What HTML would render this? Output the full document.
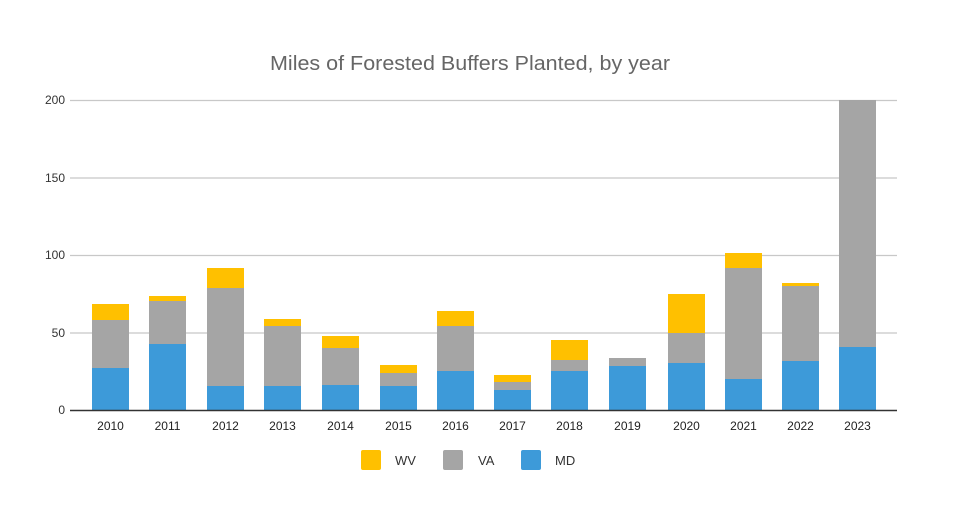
<!DOCTYPE html>
<html><head><meta charset="utf-8"><style>html,body{margin:0;padding:0;background:#fff}</style></head>
<body>
<svg width="960" height="502" viewBox="0 0 960 502" xmlns="http://www.w3.org/2000/svg" font-family="Liberation Sans, sans-serif">
<rect width="960" height="502" fill="#fff"/>
<text x="270" y="70" font-size="20" fill="#666" textLength="400" lengthAdjust="spacingAndGlyphs">Miles of Forested Buffers Planted, by year</text>
<g stroke="#c8c8c8" stroke-width="1.3">
<line x1="70" y1="100.5" x2="897" y2="100.5"/>
<line x1="70" y1="178" x2="897" y2="178"/>
<line x1="70" y1="255.5" x2="897" y2="255.5"/>
<line x1="70" y1="333" x2="897" y2="333"/>
</g>
<g font-size="12" fill="#333" text-anchor="end">
<text x="65" y="104">200</text><text x="65" y="182">150</text><text x="65" y="259">100</text><text x="65" y="337">50</text><text x="65" y="414">0</text>
</g>
<g fill="#3d9ad9">
<rect x="92" y="368" width="37" height="42"/>
<rect x="149" y="344" width="37" height="66"/>
<rect x="207" y="386" width="37" height="24"/>
<rect x="264" y="386" width="37" height="24"/>
<rect x="322" y="385" width="37" height="25"/>
<rect x="380" y="386" width="37" height="24"/>
<rect x="437" y="371" width="37" height="39"/>
<rect x="494" y="390" width="37" height="20"/>
<rect x="551" y="371" width="37" height="39"/>
<rect x="609" y="366" width="37" height="44"/>
<rect x="668" y="363" width="37" height="47"/>
<rect x="725" y="379" width="37" height="31"/>
<rect x="782" y="361" width="37" height="49"/>
<rect x="839" y="347" width="37" height="63"/>
</g>
<g fill="#a5a5a5">
<rect x="92" y="320" width="37" height="48"/>
<rect x="149" y="301" width="37" height="43"/>
<rect x="207" y="288" width="37" height="98"/>
<rect x="264" y="326" width="37" height="60"/>
<rect x="322" y="348" width="37" height="37"/>
<rect x="380" y="373" width="37" height="13"/>
<rect x="437" y="326" width="37" height="45"/>
<rect x="494" y="382" width="37" height="8"/>
<rect x="551" y="360" width="37" height="11"/>
<rect x="609" y="358" width="37" height="8"/>
<rect x="668" y="333" width="37" height="30"/>
<rect x="725" y="268" width="37" height="111"/>
<rect x="782" y="286" width="37" height="75"/>
<rect x="839" y="100" width="37" height="247"/>
</g>
<g fill="#ffc000">
<rect x="92" y="304" width="37" height="16"/>
<rect x="149" y="296" width="37" height="5"/>
<rect x="207" y="268" width="37" height="20"/>
<rect x="264" y="319" width="37" height="7"/>
<rect x="322" y="336" width="37" height="12"/>
<rect x="380" y="365" width="37" height="8"/>
<rect x="437" y="311" width="37" height="15"/>
<rect x="494" y="375" width="37" height="7"/>
<rect x="551" y="340" width="37" height="20"/>
<rect x="668" y="294" width="37" height="39"/>
<rect x="725" y="253" width="37" height="15"/>
<rect x="782" y="283" width="37" height="3"/>
</g>
<g font-size="12" fill="#222" text-anchor="middle">
<text x="110.5" y="430">2010</text>
<text x="167.5" y="430">2011</text>
<text x="225.5" y="430">2012</text>
<text x="282.5" y="430">2013</text>
<text x="340.5" y="430">2014</text>
<text x="398.5" y="430">2015</text>
<text x="455.5" y="430">2016</text>
<text x="512.5" y="430">2017</text>
<text x="569.5" y="430">2018</text>
<text x="627.5" y="430">2019</text>
<text x="686.5" y="430">2020</text>
<text x="743.5" y="430">2021</text>
<text x="800.5" y="430">2022</text>
<text x="857.5" y="430">2023</text>
</g>
<line x1="70" y1="410.5" x2="897" y2="410.5" stroke="#333" stroke-width="1.5"/>
<rect x="361" y="450" width="20" height="20" rx="2" fill="#ffc000"/>
<text x="395" y="465" font-size="13" fill="#333">WV</text>
<rect x="443" y="450" width="20" height="20" rx="2" fill="#a5a5a5"/>
<text x="478" y="465" font-size="13" fill="#333">VA</text>
<rect x="521" y="450" width="20" height="20" rx="2" fill="#3d9ad9"/>
<text x="555" y="465" font-size="13" fill="#333">MD</text>
</svg>
</body></html>
